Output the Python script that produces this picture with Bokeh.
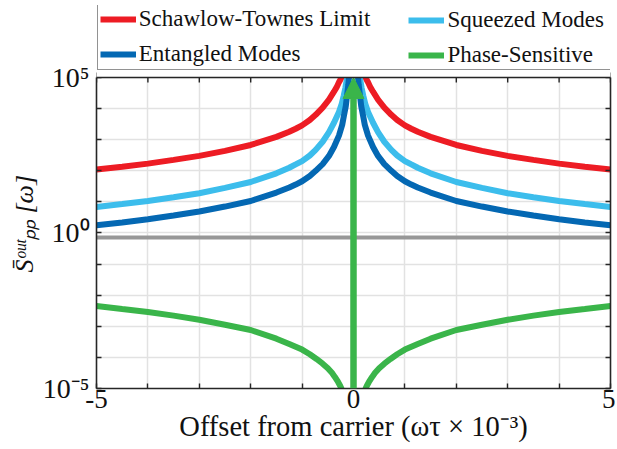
import math
from bokeh.plotting import figure
from bokeh.models import (FixedTicker, LogAxis, Legend, LegendItem, Title,
                          Arrow, NormalHead, BoxAnnotation, Span, Range1d)
from bokeh.embed import file_html
from bokeh.resources import INLINE

NAN = float("nan")

# ---------------- data ----------------
x_ticks = [-5, -4, -3, -2, -1, 0, 1, 2, 3, 4, 5]
x_tick_labels = ["-5", "", "", "", "", "0", "", "", "", "", "5"]
y_ticks = [1e-5, 1e-4, 1e-3, 1e-2, 1e-1, 1e0, 1e1, 1e2, 1e3, 1e4, 1e5]
y_tick_labels = ["10\u207b\u2075", "", "", "", "", "10\u2070", "", "", "", "", "10\u2075"]

x_title = "Offset from carrier (\u03c9\u03c4 \u00d7 10\u207b\u00b3)"
y_title = "S\u0304\u1d52\u1d58\u1d57\u209a\u209a [\u03c9]"

series_names = ["Schawlow-Townes Limit", "Squeezed Modes", "Entangled Modes", "Phase-Sensitive"]

st_x = [-5, -4.5, -4, -3.5, -3, -2.5, -2, -1.5, -1.25, -1.125, -1.0, -0.85, -0.736, -0.6, -0.477, -0.38, -0.33, -0.283, -0.25, -0.236, -0.2,
        NAN,
        0.2, 0.236, 0.25, 0.283, 0.33, 0.38, 0.477, 0.6, 0.736, 0.85, 1.0, 1.125, 1.25, 1.5, 2, 2.5, 3, 3.5, 4, 4.5, 5]
st_y = [110, 135, 170, 224, 302, 437, 676, 1230, 1800, 2250, 2880, 4300, 6300, 1.07e4, 1.95e4, 3.5e4, 4.8e4, 7.0e4, 8.8e4, 1.0e5, 1.5e5,
        NAN,
        1.5e5, 1.0e5, 8.8e4, 7.0e4, 4.8e4, 3.5e4, 1.95e4, 1.07e4, 6300, 4300, 2880, 2250, 1800, 1230, 676, 437, 302, 224, 170, 135, 110]

sq_x = [-5, -4.5, -4, -3.5, -3, -2.5, -2, -1.5, -1.25, -1.125, -1.0, -0.85, -0.736, -0.6, -0.477, -0.38, -0.283, -0.23, -0.19, -0.16, -0.14, -0.12, -0.1,
        NAN,
        0.1, 0.12, 0.14, 0.16, 0.19, 0.23, 0.283, 0.38, 0.477, 0.6, 0.736, 0.85, 1.0, 1.125, 1.25, 1.5, 2, 2.5, 3, 3.5, 4, 4.5, 5]
sq_y = [6.9, 8.5, 10.7, 14.1, 19, 28.2, 43.7, 83, 125, 160, 205, 310, 470, 860, 1750, 3500, 7800, 1.4e4, 2.6e4, 4.5e4, 7.0e4, 1.0e5, 1.8e5,
        NAN,
        1.8e5, 1.0e5, 7.0e4, 4.5e4, 2.6e4, 1.4e4, 7800, 3500, 1750, 860, 470, 310, 205, 160, 125, 83, 43.7, 28.2, 19, 14.1, 10.7, 8.5, 6.9]

en_x = [-5, -4.5, -4, -3.5, -3, -2.5, -2, -1.5, -1.25, -1.125, -1.0, -0.85, -0.736, -0.6, -0.477, -0.38, -0.283, -0.22, -0.19, -0.15, -0.12, -0.1, -0.088, -0.07,
        NAN,
        0.07, 0.088, 0.1, 0.12, 0.15, 0.19, 0.22, 0.283, 0.38, 0.477, 0.6, 0.736, 0.85, 1.0, 1.125, 1.25, 1.5, 2, 2.5, 3, 3.5, 4, 4.5, 5]
en_y = [1.78, 2.19, 2.75, 3.63, 4.9, 7.08, 10.7, 20, 29, 36, 46, 68, 100, 165, 300, 580, 1350, 3000, 5500, 1.2e4, 3.2e4, 6.0e4, 1.0e5, 2.2e5,
        NAN,
        2.2e5, 1.0e5, 6.0e4, 3.2e4, 1.2e4, 5500, 3000, 1350, 580, 300, 165, 100, 68, 46, 36, 29, 20, 10.7, 7.08, 4.9, 3.63, 2.75, 2.19, 1.78]

ps_x = [-5, -4.5, -4, -3.5, -3, -2.5, -2, -1.5, -1.25, -1.0, -0.85, -0.72, -0.6, -0.5, -0.42, -0.366, -0.3, -0.26, -0.236, -0.2,
        NAN,
        0.2, 0.236, 0.26, 0.3, 0.366, 0.42, 0.5, 0.6, 0.72, 0.85, 1.0, 1.25, 1.5, 2, 2.5, 3, 3.5, 4, 4.5, 5]
ps_y = [4.5e-3, 3.6e-3, 2.9e-3, 2.2e-3, 1.62e-3, 1.12e-3, 7.6e-4, 4.0e-4, 2.7e-4, 1.78e-4, 1.26e-4, 8.9e-5, 6.3e-5, 4.5e-5, 3.2e-5, 2.4e-5, 1.62e-5, 1.23e-5, 1.0e-5, 7.1e-6,
        NAN,
        7.1e-6, 1.0e-5, 1.23e-5, 1.62e-5, 2.4e-5, 3.2e-5, 4.5e-5, 6.3e-5, 8.9e-5, 1.26e-4, 1.78e-4, 2.7e-4, 4.0e-4, 7.6e-4, 1.12e-3, 1.62e-3, 2.2e-3, 2.9e-3, 3.6e-3, 4.5e-3]

carrier_x = [0, 0]
carrier_y = [1e-5, 1e5]

vacuum_x = [-5, 5]
vacuum_y = [0.72, 0.72]

# ---------------- style ----------------
RED = "#ED1C24"
LBLUE = "#3CBDEC"
DBLUE = "#0468B3"
GREEN = "#3AB54A"
GRAY = "#979797"
AX = "#262626"
TXT = "#111111"
FONT = "Times New Roman"

Y_LO, Y_HI = y_ticks[0], y_ticks[-1]
Y_FRAME_TOP = 10 ** 7.315   # frame extends above the plot box to hold the legend

p = figure(width=615, height=447, x_range=(x_ticks[0], x_ticks[-1]),
           y_range=Range1d(Y_LO, Y_FRAME_TOP), y_axis_type="log",
           output_backend="svg", toolbar_location=None,
           min_border_left=96, min_border_right=5, min_border_top=5, min_border_bottom=59)
p.outline_line_color = None
p.background_fill_color = "white"
p.border_fill_color = "white"

xt = FixedTicker(ticks=x_ticks)
yt = FixedTicker(ticks=y_ticks)


def style_axis(ax):
    ax.axis_line_color = AX
    ax.axis_line_width = 1.6
    ax.major_tick_line_color = AX
    ax.major_tick_line_width = 1.4
    ax.major_tick_in = 5
    ax.major_tick_out = 0
    ax.minor_tick_line_color = None


bx = p.xaxis[0]
bx.ticker = xt
style_axis(bx)
bx.major_label_overrides = {t: s for t, s in zip(x_ticks, x_tick_labels)}
bx.major_label_text_font = FONT
bx.major_label_text_font_size = "27px"
bx.major_label_text_color = TXT
bx.major_label_standoff = 1
bx.axis_label = x_title
bx.axis_label_text_font = FONT
bx.axis_label_text_font_size = "28.5px"
bx.axis_label_text_font_style = "normal"
bx.axis_label_text_color = TXT
bx.axis_label_standoff = 0

ly = p.yaxis[0]
ly.ticker = yt
style_axis(ly)
ly.bounds = (Y_LO, Y_HI)
ly.major_label_overrides = {t: s for t, s in zip(y_ticks, y_tick_labels)}
ly.major_label_text_font = FONT
ly.major_label_text_font_size = "28px"
ly.major_label_text_color = TXT
ly.major_label_standoff = 7
ly.axis_label = None

right = LogAxis(ticker=FixedTicker(ticks=y_ticks), bounds=(Y_LO, Y_HI))
style_axis(right)
right.major_label_overrides = {t: "" for t in y_ticks}
right.major_label_standoff = 0
p.add_layout(right, "right")

p.add_layout(Title(text=y_title, align="left", offset=116, standoff=2,
                   text_font=FONT, text_font_size="26px", text_font_style="italic",
                   text_color=TXT), "left")

p.xgrid.ticker = xt
p.ygrid.ticker = yt
for g in (p.xgrid[0], p.ygrid[0]):
    g.grid_line_color = "#E2E2E2"
    g.grid_line_width = 1.5

# ---------------- curves ----------------
r_vac = p.line(vacuum_x, vacuum_y, line_color=GRAY, line_width=4)
r_st = p.line(st_x, st_y, line_color=RED, line_width=6)
r_sq = p.line(sq_x, sq_y, line_color=LBLUE, line_width=6)
r_en = p.line(en_x, en_y, line_color=DBLUE, line_width=6)
r_ps = p.line(ps_x, ps_y, line_color=GREEN, line_width=6)

# inward ticks of the top edge of the plot box
p.scatter(x_ticks, [Y_HI] * len(x_ticks), marker="dash", angle=math.pi / 2, size=10,
          line_color=AX, line_width=1.4)

arrow = Arrow(x_start=carrier_x[0], y_start=carrier_y[0], x_end=carrier_x[1], y_end=carrier_y[1],
              line_color=GREEN, line_width=6.5,
              end=NormalHead(size=21, fill_color=GREEN, line_color=GREEN, line_width=1))
p.add_layout(arrow)

# blank area above the plot box (holds the legend)
p.add_layout(BoxAnnotation(bottom=Y_HI, fill_color="white", fill_alpha=1.0, line_color=None))
p.add_layout(Span(location=Y_HI, dimension="width", line_color=AX, line_width=1.6))

# ---------------- legend ----------------
leg_common = dict(label_text_font=FONT, label_text_font_size="23px", label_text_color=TXT,
                  glyph_width=36, glyph_height=20, label_standoff=3, padding=2, spacing=9,
                  margin=0, orientation="vertical")
legA = Legend(items=[LegendItem(label=series_names[0], renderers=[r_st]),
                     LegendItem(label=series_names[2], renderers=[r_en])],
              location=(0.75, 318), label_width=469,
              border_line_color=AX, border_line_width=1.5,
              background_fill_color="white", background_fill_alpha=1.0, **leg_common)
legB = Legend(items=[LegendItem(label=series_names[1], renderers=[r_sq]),
                     LegendItem(label=series_names[3], renderers=[r_ps])],
              location=(310.4, 318),
              border_line_alpha=0, background_fill_alpha=0, **leg_common)
p.add_layout(legA)
p.add_layout(legB)

open("out.html", "w").write(file_html(p, INLINE))
